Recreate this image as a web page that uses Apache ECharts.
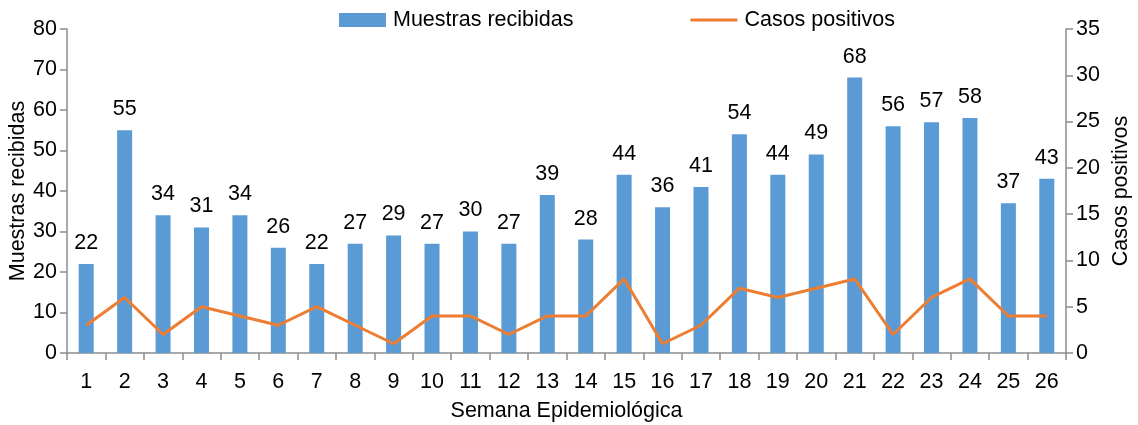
<!DOCTYPE html>
<html>
<head>
<meta charset="utf-8">
<script src="https://cdn.jsdelivr.net/npm/echarts@6/dist/echarts.min.js"></script>
<style>
  html, body { margin: 0; padding: 0; background: #fff; }
  #main { width: 1138px; height: 425px; }
</style>
</head>
<body>
<div id="main"></div>
<script>
var semanas = ['1', '2', '3', '4', '5', '6', '7', '8', '9', '10', '11', '12', '13',
    '14', '15', '16', '17', '18', '19', '20', '21', '22', '23', '24', '25', '26'];
var muestras = [22, 55, 34, 31, 34, 26, 22, 27, 29, 27, 30, 27, 39, 28, 44, 36, 41, 54, 44, 49, 68, 56, 57, 58, 37, 43];
var positivos = [3, 6, 2, 5, 4, 3, 5, 3, 1, 4, 4, 2, 4, 4, 8, 1, 3, 7, 6, 7, 8, 2, 6, 8, 4, 4];

var fuente = 'Liberation Sans, Arial, sans-serif';
var tam = 21.5;
var ejeColor = '#8c8c8c';

var chart = echarts.init(document.getElementById('main'));

var option = {
    animation: false,
    textStyle: { fontFamily: fuente, color: '#000' },
    legend: {
        top: 4,
        left: 334,
        itemGap: 117,
        itemWidth: 47,
        itemHeight: 14,
        textStyle: { fontSize: tam, color: '#000', fontFamily: fuente, padding: [0, 0, 0, 2] },
        data: [
            { name: 'Muestras recibidas', icon: 'rect' },
            { name: 'Casos positivos', icon: 'path://M0,0 L47,0 L47,3 L0,3 Z' }
        ]
    },
    grid: { left: 67, right: 72, top: 29, bottom: 72, containLabel: false, outerBoundsMode: 'none' },
    xAxis: {
        type: 'category',
        data: semanas,
        name: 'Semana Epidemiológica',
        nameLocation: 'middle',
        nameGap: 47,
        nameMoveOverlap: false,
        nameTextStyle: { fontSize: tam, color: '#000', fontFamily: fuente },
        axisLine: { lineStyle: { color: ejeColor, width: 1.5 } },
        axisTick: { show: true, length: 7, lineStyle: { color: ejeColor, width: 1.5 } },
        axisLabel: { fontSize: tam, color: '#000', margin: 18, fontFamily: fuente },
        splitLine: { show: false }
    },
    yAxis: [
        {
            type: 'value',
            min: 0, max: 80, interval: 10,
            name: 'Muestras recibidas',
            nameLocation: 'middle',
            nameGap: 38,
            nameRotate: 90,
            nameMoveOverlap: false,
            nameTextStyle: { fontSize: tam, color: '#000', fontFamily: fuente },
            axisLine: { show: true, lineStyle: { color: ejeColor, width: 1.5 } },
            axisTick: { show: true, length: 7, lineStyle: { color: ejeColor, width: 1.5 } },
            axisLabel: { fontSize: tam, color: '#000', margin: 10, fontFamily: fuente },
            splitLine: { show: false }
        },
        {
            type: 'value',
            min: 0, max: 35, interval: 5,
            name: 'Casos positivos',
            nameLocation: 'middle',
            nameGap: 44,
            nameRotate: 90,
            nameMoveOverlap: false,
            nameTextStyle: { fontSize: tam, color: '#000', fontFamily: fuente },
            axisLine: { show: true, lineStyle: { color: ejeColor, width: 1.5 } },
            axisTick: { show: true, length: 7, lineStyle: { color: ejeColor, width: 1.5 } },
            axisLabel: { fontSize: tam, color: '#000', margin: 10, fontFamily: fuente },
            splitLine: { show: false }
        }
    ],
    series: [
        {
            name: 'Muestras recibidas',
            type: 'bar',
            yAxisIndex: 0,
            barWidth: 15,
            itemStyle: { color: '#5b9bd5' },
            label: {
                show: true,
                position: 'top',
                distance: 10,
                fontSize: tam,
                color: '#000',
                fontFamily: fuente
            },
            data: muestras
        },
        {
            name: 'Casos positivos',
            type: 'line',
            yAxisIndex: 1,
            symbol: 'none',
            lineStyle: { color: '#ed7d31', width: 3 },
            itemStyle: { color: '#ed7d31' },
            data: positivos
        }
    ]
};
chart.setOption(option);
</script>
</body>
</html>
